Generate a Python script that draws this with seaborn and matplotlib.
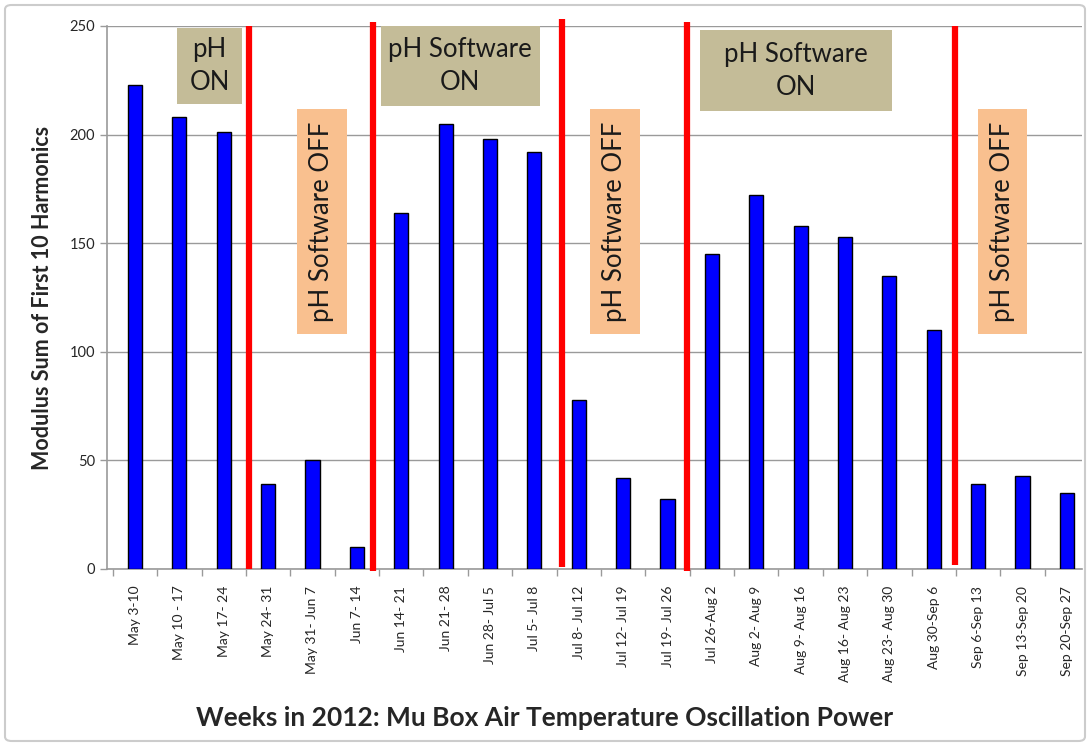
import matplotlib
matplotlib.use("Agg")
import matplotlib.pyplot as plt
import seaborn as sns
import numpy as np
from matplotlib.patches import Rectangle, FancyBboxPatch

weeks = ['May 3-10', 'May 10 - 17', 'May 17- 24', 'May 24- 31', 'May 31- Jun 7',
         'Jun 7- 14', 'Jun 14- 21', 'Jun 21- 28', 'Jun 28- Jul 5', 'Jul 5- Jul 8',
         'Jul 8- Jul 12', 'Jul 12- Jul 19', 'Jul 19- Jul 26', 'Jul 26-Aug 2',
         'Aug 2- Aug 9', 'Aug 9- Aug 16', 'Aug 16- Aug 23', 'Aug 23- Aug 30',
         'Aug 30-Sep 6', 'Sep 6-Sep 13', 'Sep 13-Sep 20', 'Sep 20-Sep 27']
power = [223, 208, 201, 39, 50, 10, 164, 205, 198, 192, 78, 42, 32,
         145, 172, 158, 153, 135, 110, 39, 43, 35]

# hand drawn red separators (x position in category units, bottom, top)
separators = [(2.58, 0, 250), (5.37, -1, 252), (9.62, 1, 253), (12.43, -1, 252), (18.48, 2, 250)]

# labels: (text, x0, x1, y0, y1, kind)
labels = [('pH\nON', 0.95, 2.41, 214, 249, 'on'),
          ('pH Software\nON', 5.54, 9.12, 213, 250, 'on'),
          ('pH Software\nON', 12.73, 17.05, 211, 248, 'on'),
          ('pH Software OFF', 3.65, 4.77, 108, 212, 'off'),
          ('pH Software OFF', 10.25, 11.37, 108, 212, 'off'),
          ('pH Software OFF', 19.0, 20.1, 108, 212, 'off')]

sns.set_style('white')
plt.rcParams['font.family'] = ['Lato', 'DejaVu Sans']

fig = plt.figure(figsize=(10.9, 7.46), dpi=100)
ax = fig.add_axes([107 / 1090, 1 - 569 / 746, 975 / 1090, 543 / 746])

sns.barplot(x=weeks, y=power, color='#0000ff', edgecolor='black', linewidth=1,
            width=0.32, saturation=1, ax=ax, zorder=3)

ax.set_ylim(0, 250)
ax.set_xlim(-0.63, 21.34)
ax.set_yticks(np.arange(0, 251, 50))
ax.yaxis.grid(True, color='#9a9a9a', linewidth=1, zorder=0)
ax.set_axisbelow(True)
ax.tick_params(axis='y', labelsize=10.5, length=5, color='#9a9a9a', left=True, width=1)
ax.tick_params(axis='x', labelsize=10, rotation=90, length=0, pad=12)
ax.set_xticks(np.arange(-0.5, 21.5, 1), minor=True)
ax.tick_params(axis='x', which='minor', length=5, color='#9a9a9a', bottom=True, width=1)
for s in ['top', 'right']:
    ax.spines[s].set_visible(False)
for s in ['left', 'bottom']:
    ax.spines[s].set_color('#9a9a9a')
    ax.spines[s].set_linewidth(1.2)

for x, y0, y1 in separators:
    ax.plot([x, x], [y0, y1], color='#ff0000', linewidth=4.5, zorder=5,
            clip_on=False, solid_capstyle='butt')

for text, x0, x1, y0, y1, kind in labels:
    fc = '#c4bc98' if kind == 'on' else '#f9c08f'
    ax.add_patch(Rectangle((x0, y0), x1 - x0, y1 - y0, facecolor=fc,
                           edgecolor='none', zorder=4, clip_on=False))
    ax.text((x0 + x1) / 2, (y0 + y1) / 2, text, ha='center', va='center',
            fontsize=18.5, rotation=0 if kind == 'on' else 90, zorder=6,
            color='#1a1a1a', linespacing=1.4)

ax.set_ylabel('Modulus Sum of First 10 Harmonics', fontsize=15.5,
              fontweight='bold', labelpad=12)
fig.text(0.5, 1 - 718 / 746, 'Weeks in 2012: Mu Box Air Temperature Oscillation Power',
         ha='center', va='center', fontsize=19, fontweight='bold')

fig.patches.append(FancyBboxPatch((5 / 1090, 5 / 746), 1080 / 1090, 736 / 746,
                                  boxstyle='round,pad=0,rounding_size=0.006',
                                  transform=fig.transFigure, facecolor='none',
                                  edgecolor='#cccccc', linewidth=1.5))

fig.savefig('out.png', dpi=100)
